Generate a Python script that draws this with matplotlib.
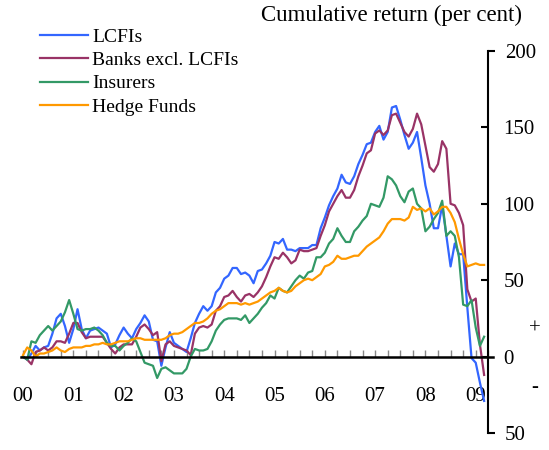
import numpy as np
import matplotlib
matplotlib.use('Agg')
import matplotlib.pyplot as plt
from matplotlib.ticker import FixedLocator, FixedFormatter

plt.rcParams['font.family'] = ['Liberation Serif', 'DejaVu Serif']

# monthly cumulative returns, Jan 2000 - Mar 2009 (per cent)
lcfis = [0, -2, 2, 7, 4, 6, 7, 15, 25, 28, 20, 9, 18, 31, 18, 12, 17, 18, 19, 17,
         15, 6, 8, 14, 19, 15, 12, 18, 22, 27, 23, 11, 10, -6, 6, 16, 9, 7, 5, 3,
         12, 22, 28, 33, 30, 33, 42, 45, 51, 53, 58, 58, 54, 55, 53, 48, 56, 57, 61, 66,
         75, 74, 77, 70, 70, 69, 71, 71, 71, 73, 73, 84, 91, 99, 105, 110, 119, 114, 113, 118,
         126, 132, 139, 140, 147, 151, 142, 147, 163, 164, 155, 145, 136, 140, 147, 130, 112, 100, 84, 84,
         99, 79, 59, 74, 67, 67, 32, -1, -4, -17, -29]
banks = [0, -2, -5, 3, 4, 6, 4, 6, 10, 10, 9, 15, 22, 22, 16, 12, 13, 13, 13, 13,
         9, 5, 2, 6, 8, 8, 8, 13, 19, 21, 18, 14, 16, -3, 8, 10, 7, 6, 5, 4,
         1, 15, 19, 20, 19, 21, 30, 33, 39, 40, 43, 39, 36, 40, 41, 39, 42, 46, 52, 59,
         65, 64, 68, 65, 61, 63, 70, 69, 69, 70, 71, 79, 86, 95, 100, 105, 109, 104, 104, 109,
         118, 125, 133, 135, 146, 148, 145, 148, 158, 159, 153, 147, 144, 149, 159, 152, 138, 124, 121, 126,
         141, 136, 100, 99, 94, 86, 44, 36, 38, 8, -12]
insurers = [0, -2, 10, 9, 14, 17, 20, 17, 20, 23, 29, 37, 28, 18, 17, 18, 18, 19, 17, 14,
            9, 7, 7, 4, 7, 9, 12, 10, 3, -4, -5, -6, -14, -8, -7, -9, -11, -11, -11, -8,
            0, 5, 4, 4, 5, 10, 17, 21, 24, 25, 25, 25, 24, 27, 22, 25, 28, 32, 35, 40,
            38, 45, 43, 42, 46, 50, 53, 51, 55, 56, 65, 65, 68, 74, 77, 84, 79, 75, 75, 82,
            85, 89, 92, 100, 99, 98, 104, 118, 116, 112, 105, 101, 108, 110, 100, 97, 82, 85, 90, 94,
            102, 79, 82, 79, 65, 34, 33, 37, 19, 7, 13]
hedge = [1, 6, 4, 0, 2, 2, 3, 4, 6, 4, 3, 5, 6, 6, 6, 7, 7, 8, 8, 9,
         8, 8, 9, 10, 10, 10, 11, 12, 12, 11, 11, 11, 11, 11, 12, 14, 15, 15, 16, 18,
         20, 22, 22, 23, 25, 28, 30, 31, 33, 35, 35, 35, 34, 35, 34, 35, 36, 38, 40, 42,
         43, 45, 43, 42, 43, 46, 48, 50, 51, 50, 52, 54, 59, 60, 62, 66, 64, 64, 65, 66,
         66, 69, 72, 74, 76, 78, 82, 87, 90, 90, 90, 89, 91, 98, 96, 97, 95, 97, 93, 95,
         98, 98, 94, 88, 77, 67, 59, 60, 61, 60, 60]

series = ['LCFIs', 'Banks excl. LCFIs', 'Insurers', 'Hedge Funds']
colours = ['#3366FF', '#993366', '#339966', '#FF9900']
years = ['00', '01', '02', '03', '04', '05', '06', '07', '08', '09']

t = 2000 + np.arange(len(lcfis)) / 12.0

fig = plt.figure(figsize=(5.49, 4.5), dpi=100)
ax = fig.add_axes([0.0383, 0.0378, 0.8603, 0.8489])

for vals, name, col in zip([lcfis, banks, insurers, hedge], series, colours):
    ax.plot(t, vals, color=col, lw=1.6, label=name)

ax.set_xlim(1999.96, 2009.35)
ax.set_ylim(-50, 200)

for s in ['left', 'top']:
    ax.spines[s].set_visible(False)
ax.spines['bottom'].set_position(('data', 0))
ax.spines['bottom'].set_linewidth(1.8)
ax.spines['right'].set_position(('data', 2009.245))
ax.spines['right'].set_bounds(-50, 200)
ax.spines['right'].set_linewidth(1.5)

# x axis: year labels, quarterly ticks pointing up
ax.xaxis.set_major_locator(FixedLocator(np.arange(2000, 2010)))
ax.xaxis.set_major_formatter(FixedFormatter(years))
ax.xaxis.set_minor_locator(FixedLocator(np.arange(2000, 2009.3, 0.25)))
ax.tick_params(axis='x', which='both', direction='in', length=5, width=1,
               color='#888888', labelsize=15, pad=22)

# y axis on the right
ax.yaxis.tick_right()
ax.yaxis.set_major_locator(FixedLocator([-50, 200]))
ax.yaxis.set_major_formatter(FixedFormatter(['50', '200']))
ax.yaxis.set_minor_locator(FixedLocator([0, 50, 100, 150]))
ax.yaxis.set_minor_formatter(FixedFormatter(['0', '50', '100', '150']))
ax.tick_params(axis='y', which='major', direction='out', length=5, width=1.5,
               labelsize=15, pad=7)
ax.tick_params(axis='y', which='minor', direction='in', length=5, width=1.5,
               labelsize=15, pad=11, labelright=True)

ax.text(2010.18, 18, '+', fontsize=15, ha='center', va='center', clip_on=False)
ax.text(2010.18, -20, '-', fontsize=15, ha='center', va='center', clip_on=False)

fig.text(522 / 549, 1 - 15 / 450, 'Cumulative return (per cent)', fontsize=16.5,
         ha='right', va='center')

ax.legend(loc='upper left', bbox_to_anchor=(40 / 549, 1 - 28 / 450),
          bbox_transform=fig.transFigure, frameon=False, fontsize=14,
          handlelength=2.45, handletextpad=0.25, labelspacing=0.3,
          borderaxespad=0, borderpad=0)

fig.savefig('out.png', dpi=100)
